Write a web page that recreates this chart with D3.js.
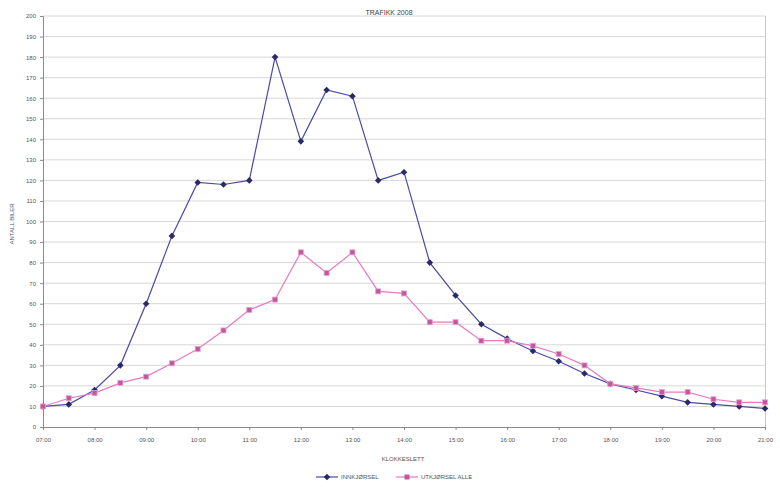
<!DOCTYPE html>
<html>
<head>
<meta charset="utf-8">
<script src="https://cdn.jsdelivr.net/npm/d3@7/dist/d3.min.js"></script>
<style>
  html, body { margin: 0; padding: 0; background: #fff; }
  svg { display: block; font-family: "Liberation Sans", Arial, sans-serif; }
</style>
</head>
<body>
<svg id="chart" width="780" height="487"></svg>
<script>
// Half-hour time slots, 07:00 to 21:00
const times = ["07:00","07:30","08:00","08:30","09:00","09:30","10:00","10:30","11:00","11:30",
  "12:00","12:30","13:00","13:30","14:00","14:30","15:00","15:30","16:00","16:30",
  "17:00","17:30","18:00","18:30","19:00","19:30","20:00","20:30","21:00"];
const hourLabels = ["07:00","08:00","09:00","10:00","11:00","12:00","13:00","14:00",
  "15:00","16:00","17:00","18:00","19:00","20:00","21:00"];
const yTicks = d3.range(0, 201, 10);

const seriesNames = ["INNKJØRSEL", "UTKJØRSEL ALLE"];
const inValues = [10, 11, 18, 30, 60, 93, 119, 118, 120, 180,
  139, 164, 161, 120, 124, 80, 64, 50, 43, 37,
  32, 26, 21, 18, 15, 12, 11, 10, 9];
const outValues = [10, 14, 16.5, 21.5, 24.5, 31, 38, 47, 57, 62,
  85, 75, 85, 66, 65, 51, 51, 42, 42, 39.5,
  35.5, 30, 21, 19, 17, 17, 13.5, 12, 12];

const titleText = "TRAFIKK 2008";
const xTitle = "KLOKKESLETT";
const yTitle = "ANTALL BILER";

const svg = d3.select("#chart");
const plot = { left: 43, right: 765, top: 16, bottom: 427 };

const x = d3.scalePoint().domain(times).range([plot.left, plot.right]);
const y = d3.scaleLinear().domain([0, 200]).range([plot.bottom, plot.top]);

// Horizontal gridlines
svg.append("g")
  .selectAll("line")
  .data(yTicks.filter(d => d > 0))
  .join("line")
  .attr("x1", plot.left).attr("x2", plot.right)
  .attr("y1", d => y(d)).attr("y2", d => y(d))
  .attr("stroke", "#d8d8d8").attr("stroke-width", 1);

// Right border of the plot area
svg.append("line")
  .attr("x1", plot.right + 0.5).attr("x2", plot.right + 0.5)
  .attr("y1", plot.top).attr("y2", plot.bottom)
  .attr("stroke", "#c8c8c8");

// Y axis
const yAxis = svg.append("g")
  .attr("transform", `translate(${plot.left},0)`)
  .call(d3.axisLeft(y).tickValues(yTicks).tickSize(3).tickPadding(4).tickFormat(d3.format("d")));
yAxis.select(".domain").attr("stroke", "#8a8a8a");
yAxis.selectAll(".tick line").attr("stroke", "#8a8a8a");
yAxis.selectAll("text").attr("fill", "#555").attr("font-size", 6);

// X axis, labelled on the hour
const xAxis = svg.append("g")
  .attr("transform", `translate(0,${plot.bottom})`)
  .call(d3.axisBottom(x).tickValues(hourLabels).tickSize(3).tickPadding(8));
xAxis.select(".domain").attr("stroke", "#8a8a8a");
xAxis.selectAll(".tick line").attr("stroke", "#8a8a8a");
xAxis.selectAll("text").attr("fill", "#555").attr("font-size", 6);

// Titles
svg.append("text").attr("x", 389).attr("y", 15).attr("text-anchor", "middle")
  .attr("font-size", 7).attr("fill", "#444").text(titleText);
svg.append("text").attr("x", 403).attr("y", 461).attr("text-anchor", "middle")
  .attr("font-size", 6).attr("fill", "#555").text(xTitle);
svg.append("text").attr("transform", "translate(14,224) rotate(-90)")
  .attr("text-anchor", "middle").attr("font-size", 6).attr("fill", "#555").text(yTitle);

const line = d3.line().x((d, i) => x(times[i])).y(d => y(d));
// Square diamond marker: a 4.6px square turned 45 degrees
const diamond = "M0,-3.3L3.3,0L0,3.3L-3.3,0Z";

// Series 1: navy line with diamonds
svg.append("path").datum(inValues).attr("d", line)
  .attr("fill", "none").attr("stroke", "#4a4aaa").attr("stroke-width", 1.2);
svg.append("g").selectAll("path").data(inValues).join("path")
  .attr("d", diamond)
  .attr("transform", (d, i) => `translate(${x(times[i])},${y(d)})`)
  .attr("fill", "#2a2a66");

// Series 2: pink line with squares
svg.append("path").datum(outValues).attr("d", line)
  .attr("fill", "none").attr("stroke", "#e47cc0").attr("stroke-width", 1.2);
svg.append("g").selectAll("rect").data(outValues).join("rect")
  .attr("x", (d, i) => x(times[i]) - 2.5).attr("y", d => y(d) - 2.5)
  .attr("width", 5).attr("height", 5)
  .attr("fill", "#c0589e").attr("stroke", "#e7a0cf").attr("stroke-width", 0.8);

// Legend
const legend = svg.append("g").attr("transform", "translate(0,477)");
legend.append("line").attr("x1", 316).attr("x2", 338).attr("stroke", "#4a4aaa").attr("stroke-width", 1.2);
legend.append("path").attr("d", diamond).attr("transform", "translate(327,0)").attr("fill", "#2a2a66");
legend.append("text").attr("x", 341).attr("y", 2).attr("font-size", 6).attr("fill", "#555").text(seriesNames[0]);
legend.append("line").attr("x1", 396).attr("x2", 418).attr("stroke", "#e47cc0").attr("stroke-width", 1.2);
legend.append("rect").attr("x", 404.5).attr("y", -2.5).attr("width", 5).attr("height", 5).attr("fill", "#c0589e");
legend.append("text").attr("x", 421).attr("y", 2).attr("font-size", 6).attr("fill", "#555").text(seriesNames[1]);
</script>
</body>
</html>
